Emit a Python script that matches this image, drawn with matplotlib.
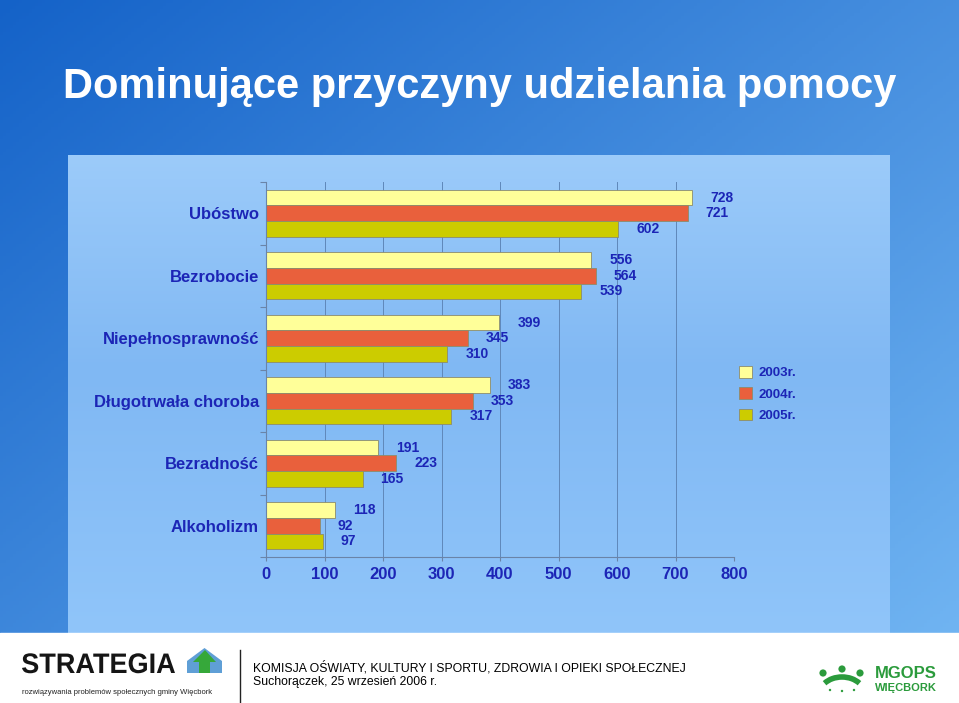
import numpy as np
import matplotlib.pyplot as plt
from matplotlib.patches import Rectangle, Polygon, Circle, PathPatch, Arc
from matplotlib.textpath import TextPath
from matplotlib.font_manager import FontProperties
from matplotlib.transforms import Affine2D

# dane z wykresu
categories = ['Ubóstwo', 'Bezrobocie', 'Niepełnosprawność', 'Długotrwała choroba', 'Bezradność', 'Alkoholizm']
years = ['2003r.', '2004r.', '2005r.']
v2003 = [728, 556, 399, 383, 191, 118]
v2004 = [721, 564, 345, 353, 223, 92]
v2005 = [602, 539, 310, 317, 165, 97]
xticks = [0, 100, 200, 300, 400, 500, 600, 700, 800]

title = 'Dominujące przyczyny udzielania pomocy'
footer1 = 'KOMISJA OŚWIATY, KULTURY I SPORTU, ZDROWIA I OPIEKI SPOŁECZNEJ'
footer2 = 'Suchorączek, 25 wrzesień 2006 r.'

W, H = 959, 703
plt.rcParams['font.family'] = ['Liberation Sans', 'DejaVu Sans']
blue_txt = '#1c25b6'
green = '#2b9b3c'


def px(x, y, w, h):
    return [x / W, 1 - (y + h) / H, w / W, h / H]


def grad(stops, n=256):
    t = np.linspace(0, 1, n)
    pos = [s[0] for s in stops]
    cols = [np.array([int(s[1][i:i + 2], 16) for i in (1, 3, 5)]) / 255 for s in stops]
    return np.stack([np.interp(t, pos, [c[k] for c in cols]) for k in range(3)], axis=-1)


fig = plt.figure(figsize=(W / 100, H / 100), dpi=100)

# tło slajdu
bg = fig.add_axes([0, 0, 1, 1])
bg.set_axis_off()
yy, xx = np.mgrid[0:1:200j, 0:1:300j]
t = xx * 0.55 + yy * 0.45
c0 = np.array([0x14, 0x62, 0xc8]) / 255
c1 = np.array([0x70, 0xb4, 0xf2]) / 255
bg.imshow(c0 + (c1 - c0) * t[..., None], extent=(0, W, 633, 0), aspect='auto')

# jasny panel pod wykresem
col = grad([(0, '#9ccbfa'), (0.45, '#80b8f3'), (1, '#90c5fa')])
bg.imshow(col[:, None, :].repeat(2, axis=1), extent=(68, 890, 633, 155), aspect='auto')

# stopka
bg.add_patch(Rectangle((0, 633), W, 70, color='white'))
bg.set_xlim(0, W)
bg.set_ylim(H, 0)

bg.text(W / 2, 98, title, ha='center', va='baseline', color='white',
        fontsize=30, fontweight='bold')

# wykres
ax = fig.add_axes(px(266, 182, 468, 375))
ax.patch.set_alpha(0)
y = np.arange(len(categories))
h = 0.25
edge = '#8c8c6c'
b1 = ax.barh(y - h, v2003, height=h, color='#ffff99', edgecolor=edge, lw=0.6, label=years[0])
b2 = ax.barh(y, v2004, height=h, color='#e9603c', edgecolor=edge, lw=0.6, label=years[1])
b3 = ax.barh(y + h, v2005, height=h, color='#cccc00', edgecolor=edge, lw=0.6, label=years[2])
for b in (b1, b2, b3):
    ax.bar_label(b, padding=13, fontsize=10, fontweight='bold', color=blue_txt)

ax.set_xlim(0, 800)
ax.set_ylim(len(categories) - 0.5, -0.5)
ax.set_xticks(xticks)
ax.set_xticklabels([str(v) for v in xticks])
ax.xaxis.grid(True, color='#5f88ba', lw=0.7)
ax.set_axisbelow(True)

ax.set_yticks(np.arange(-0.5, len(categories), 1))
ax.set_yticklabels([])
ax.set_yticks(y, minor=True)
ax.set_yticklabels(categories, minor=True)
ax.tick_params(axis='y', which='major', length=4, color='#6a84a8')
ax.tick_params(axis='y', which='minor', length=0, pad=5, labelsize=12, labelcolor=blue_txt)
ax.tick_params(axis='x', length=3, pad=4, color='#6a84a8', labelsize=12, labelcolor=blue_txt)
for lab in ax.get_yticklabels(minor=True) + ax.get_xticklabels():
    lab.set_fontweight('bold')

for s in ('top', 'right'):
    ax.spines[s].set_visible(False)
for s in ('left', 'bottom'):
    ax.spines[s].set_color('#6a84a8')
    ax.spines[s].set_linewidth(0.8)

leg = ax.legend(loc='upper left', bbox_to_anchor=(739 / W, 1 - 366 / H),
                bbox_transform=fig.transFigure, frameon=False, borderpad=0,
                borderaxespad=0, handlelength=1.0, handleheight=1.0,
                handletextpad=0.45, labelspacing=0.6,
                prop={'size': 9.5, 'weight': 'bold'})
for txt in leg.get_texts():
    txt.set_color(blue_txt)

# logo STRATEGIA
tp = TextPath((0, 0), 'STRATEGIA', size=40, prop=FontProperties(family='Liberation Sans', weight='bold'))
ext = tp.get_extents()
tr = Affine2D().translate(-ext.x0, 0).scale(153 / ext.width, -20 / ext.height).translate(22, 673) + bg.transData
bg.add_patch(PathPatch(tp, transform=tr, color='#151515', lw=0))
bg.text(22, 693, 'rozwiązywania problemów społecznych gminy Więcbork', fontsize=5.5,
        color='#222222', va='center', ha='left')
bg.add_patch(Polygon([(187, 673), (187, 661), (204.5, 648), (222, 661), (222, 673)],
                     closed=True, color='#5f9fd6', lw=0))
bg.add_patch(Polygon([(199, 673), (199, 662), (193, 662), (205, 650), (216, 662),
                      (210, 662), (210, 673)], closed=True, color='#36a83a', lw=0))
bg.plot([240, 240], [650, 703], color='#222222', lw=1)

bg.text(253, 667.5, footer1, fontsize=8.8, color='black', va='center', ha='left')
bg.text(253, 681.5, footer2, fontsize=8.8, color='black', va='center', ha='left')

# logo MGOPS
for cx, cy in [(823, 673), (842, 669), (860, 673)]:
    bg.add_patch(Circle((cx, cy), 3.6, color=green, lw=0))
bg.add_patch(Arc((842, 695), 46, 36, theta1=214, theta2=326, color=green, lw=4))
for cx, cy in [(830, 690), (842, 691), (854, 690)]:
    bg.add_patch(Circle((cx, cy), 1.2, color=green, lw=0))
bg.text(875, 678, 'MGOPS', fontsize=12, fontweight='bold', color=green, va='baseline', ha='left')
bg.text(875, 691, 'WIĘCBORK', fontsize=8, fontweight='bold', color=green, va='baseline', ha='left')

fig.savefig('out.png', dpi=100)
